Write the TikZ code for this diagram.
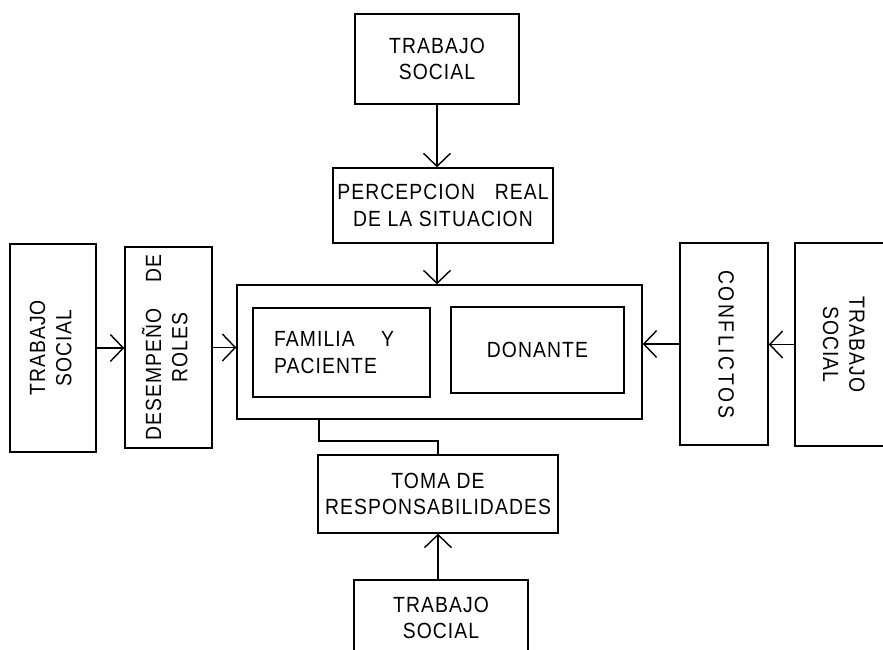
\documentclass[tikz,border=0pt]{standalone}
\usepackage{fontspec}
\setmainfont{Liberation Sans}[FakeStretch=0.88, LetterSpace=5]
\usepackage{graphicx}
\usepackage{tikz}
\usetikzlibrary{arrows.meta, calc, positioning}

\newcommand{\rottext}[2]{\rotatebox{#1}{\begin{tabular}{@{}c@{}}#2\end{tabular}}}

\tikzset{
    caja/.style={draw, line width=0.8pt, align=center, inner sep=0pt},
    flecha/.style={line width=0.8pt, ->}
}

\begin{document}
\begin{tikzpicture}[>={Straight Barb[length=2.6mm, width=5.4mm]}, font=\fontsize{12.5}{15}\selectfont]
        \useasboundingbox (0,0) rectangle (17.66,13);

        % Columna central
        \node[caja, minimum width=3.28cm, minimum height=1.8cm] (tsArriba) at (8.74,11.82) {TRABAJO\\SOCIAL};
        \node[caja, minimum width=4.4cm, minimum height=1.5cm] (percepcion) at (8.86,8.89) {PERCEPCION\hspace{0.9em}REAL\\DE LA SITUACION};
        \node[caja, minimum width=8.1cm, minimum height=2.68cm] (grupo) at (8.79,5.96) {};
        \node[caja, minimum width=3.54cm, minimum height=1.78cm, text width=2.7cm, inner xsep=0.42cm, align=left] (familia) at (6.83,5.95) {FAMILIA\hspace{1.2em}Y\\PACIENTE};
        \node[caja, minimum width=3.46cm, minimum height=1.72cm] (donante) at (10.75,6.0) {DONANTE};
        \node[caja, minimum width=4.8cm, minimum height=1.56cm] (toma) at (8.76,3.12) {TOMA DE\\RESPONSABILIDADES};
        \node[caja, minimum width=3.48cm, minimum height=1.52cm] (tsAbajo) at (8.82,0.64) {TRABAJO\\SOCIAL};

        % Lado izquierdo
        \node[caja, minimum width=1.72cm, minimum height=4.16cm] (tsIzq) at (1.06,6.04) {\rottext{90}{TRABAJO\\SOCIAL}};
        \node[caja, minimum width=1.74cm, minimum height=4.02cm] (roles) at (3.37,6.05) {\rottext{90}{DESEMPEÑO\hspace{1.2em}DE\\ROLES}};

        % Lado derecho
        \node[caja, minimum width=1.76cm, minimum height=4.04cm] (conflictos) at (14.48,6.12) {\rottext{-90}{\addfontfeature{LetterSpace=12}CONFLICTOS}};
        \node[caja, minimum width=1.86cm, minimum height=4.06cm] (tsDer) at (16.83,6.11) {\rottext{-90}{TRABAJO\\SOCIAL}};

        % Flechas
        \draw[flecha] (tsArriba.south) -- (tsArriba.south |- percepcion.north);
        \draw[flecha] (tsArriba.south |- percepcion.south) -- (tsArriba.south |- grupo.north);
        \draw[flecha] (tsIzq.east) -- (tsIzq.east -| roles.west);
        \draw[flecha] (roles.east) -- (roles.east -| grupo.west);
        \draw[flecha] (conflictos.west) -- (conflictos.west -| grupo.east);
        \draw[flecha] (tsDer.west) -- (tsDer.west -| conflictos.east);
        \draw[flecha] (toma.south |- tsAbajo.north) -- (toma.south);

        % Union con la toma de responsabilidades
        \coordinate (codo) at (6.38,4.18);
        \draw[line width=0.8pt] (grupo.south -| codo) -- (codo) -| (toma.north);
\end{tikzpicture}
\end{document}
